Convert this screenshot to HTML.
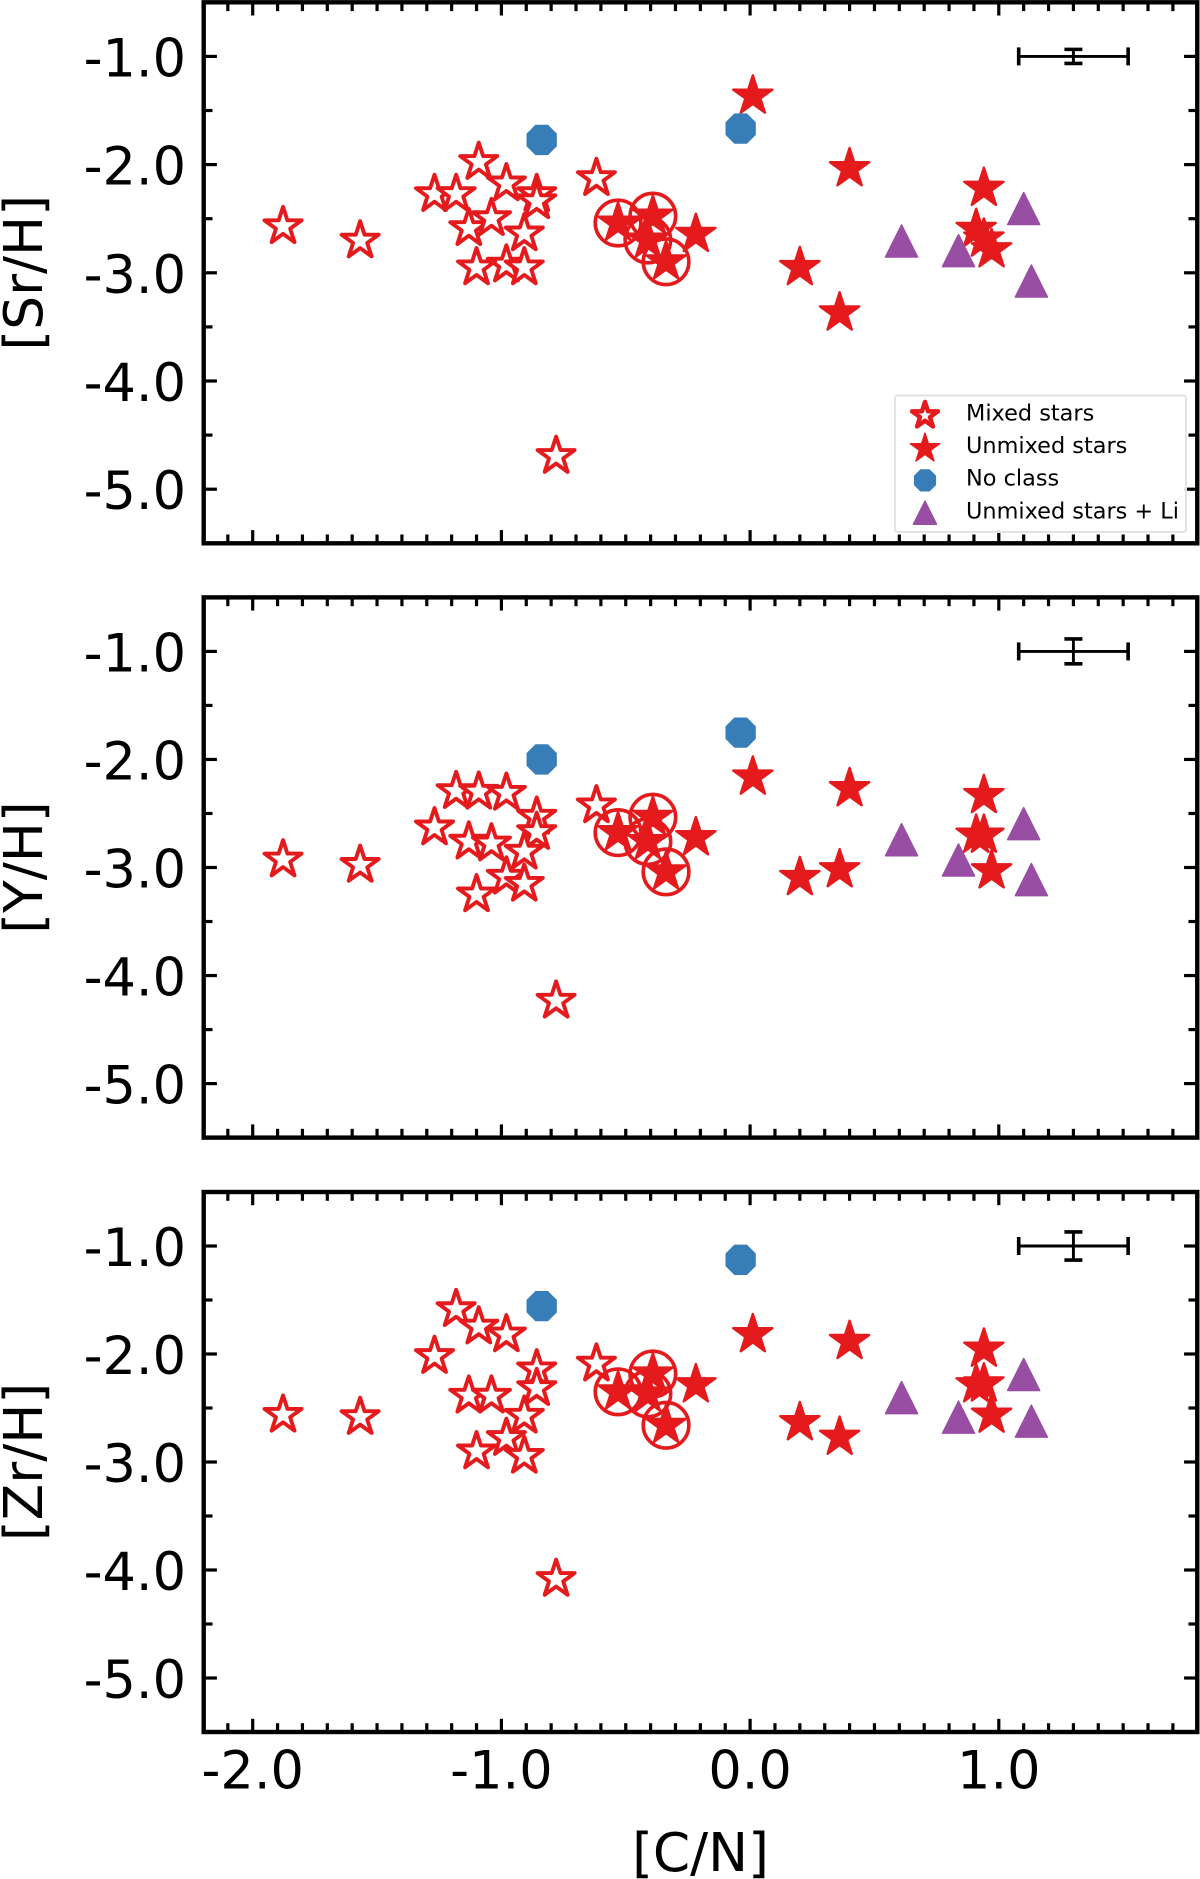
<!DOCTYPE html>
<html lang="en">
<head>
<meta charset="utf-8">
<title>Abundance vs [C/N]</title>
<style>
  html, body { margin: 0; padding: 0; background: #fff; }
  body { width: 1200px; height: 1879px; overflow: hidden; }
  svg { display: block; filter: blur(0.35px); }
  text { font-family: "DejaVu Sans", "Liberation Sans", sans-serif; fill: #000; }
</style>
</head>
<body>
<svg id="chart" xmlns="http://www.w3.org/2000/svg" width="1200" height="1879" viewBox="0 0 1200 1879"></svg>
<script>
// ---- data ----
const xTicks = [-2, -1, 0, 1];
const yTicks = [-1, -2, -3, -4, -5];
const xTickLabels = ['-2.0', '-1.0', '0.0', '1.0'];
const yTickLabels = ['-1.0', '-2.0', '-3.0', '-4.0', '-5.0'];
const legendLabels = ['Mixed stars', 'Unmixed stars', 'No class', 'Unmixed stars + Li'];
const panelTitles = ['[Sr/H]', '[Y/H]', '[Zr/H]'];

const mixedCN = [-1.878, -1.568, -1.269, -1.182, -1.091, -0.98, -0.858, -0.858, -1.131, -1.04, -0.908, -0.98, -1.10, -0.908, -0.78, -0.618];
const mixedSr = [-2.571, -2.703, -2.274, -2.274, -1.977, -2.175, -2.274, -2.34, -2.588, -2.496, -2.637, -2.925, -2.951, -2.951, -4.694, -2.126];
const mixedY  = [-2.927, -2.977, -2.63, -2.294, -2.30, -2.31, -2.531, -2.673, -2.762, -2.779, -2.855, -3.086, -3.25, -3.152, -4.234, -2.426];
const mixedZr = [-2.564, -2.585, -2.02, -1.586, -1.747, -1.82, -2.143, -2.317, -2.387, -2.387, -2.573, -2.779, -2.903, -2.944, -4.084, -2.09];

const circledCN = [-0.531, -0.391, -0.411, -0.338];
const circledSr = [-2.54, -2.476, -2.697, -2.898];
const circledY  = [-2.677, -2.535, -2.76, -3.04];
const circledZr = [-2.35, -2.185, -2.37, -2.66];

const unmixedCN = [-0.218, 0.011, 0.2, 0.36, 0.40, 0.909, 0.94, 0.94, 0.971];
const unmixedSr = [-2.644, -1.366, -2.951, -3.37, -2.037, -2.598, -2.218, -2.687, -2.786];
const unmixedY  = [-2.723, -2.162, -3.092, -3.02, -2.27, -2.70, -2.333, -2.70, -3.03];
const unmixedZr = [-2.284, -1.82, -2.635, -2.77, -1.883, -2.284, -1.954, -2.276, -2.565];

const noClassCN = [-0.838, -0.038];
const noClassSr = [-1.772, -1.667];
const noClassY  = [-2.0, -1.752];
const noClassZr = [-1.557, -1.128];

const liCN = [0.609, 0.838, 1.10, 1.131];
const liSr = [-2.706, -2.795, -2.406, -3.076];
const liY  = [-2.743, -2.93, -2.594, -3.112];
const liZr = [-2.404, -2.585, -2.19, -2.622];

const errCN = 1.30;
const errY = -1.0;
const errCNSize = 0.22;
const errSizes = [0.065, 0.115, 0.13];

// ---- geometry / style ----
const RED = '#e41a1c', BLUE = '#377eb8', PURPLE = '#984ea3';
const NS = 'http://www.w3.org/2000/svg';
const svg = document.getElementById('chart');
const X0 = 750.1, XU = 248.7;
const sx = v => X0 + XU * v;
const XMIN = -2.197, XMAX = 1.798;
const panels = [
  { y1: 56.4,  u: 108.2,  key: 'sr', mixed: mixedSr, circled: circledSr, unmixed: unmixedSr, noClass: noClassSr, li: liSr },
  { y1: 651.4, u: 108.05, key: 'y',  mixed: mixedY,  circled: circledY,  unmixed: unmixedY,  noClass: noClassY,  li: liY },
  { y1: 1246,  u: 108.0,  key: 'zr', mixed: mixedZr, circled: circledZr, unmixed: unmixedZr, noClass: noClassZr, li: liZr }
];

function mk(tag, attrs, parent) {
  const el = document.createElementNS(NS, tag);
  for (const k in attrs) el.setAttribute(k, attrs[k]);
  parent.appendChild(el);
  return el;
}
function starPts(cx, cy, r) {
  const pts = [];
  for (let i = 0; i < 10; i++) {
    const a = -Math.PI / 2 + i * Math.PI / 5;
    const rr = i % 2 ? r * 0.381966 : r;
    pts.push((cx + rr * Math.cos(a)).toFixed(2) + ',' + (cy + rr * Math.sin(a)).toFixed(2));
  }
  return pts.join(' ');
}
function octPts(cx, cy, r) {
  const pts = [];
  for (let i = 0; i < 8; i++) {
    const a = Math.PI / 8 + i * Math.PI / 4;
    pts.push((cx + r * Math.cos(a)).toFixed(2) + ',' + (cy + r * Math.sin(a)).toFixed(2));
  }
  return pts.join(' ');
}
function triPts(cx, cy, r) {
  return [[cx, cy - r], [cx + r, cy + r], [cx - r, cy + r]].map(p => p[0].toFixed(2) + ',' + p[1].toFixed(2)).join(' ');
}
function drawMixed(cx, cy, g, r, sw) {
  const el = mk('polygon', { points: starPts(cx, cy, r), fill: '#fff', stroke: RED, 'stroke-width': sw, 'stroke-linejoin': 'round' }, g);
  
  
}
function drawUnmixed(cx, cy, g, r, sw) {
  const el = mk('polygon', { points: starPts(cx, cy, r), fill: RED, stroke: RED, 'stroke-width': sw, 'stroke-linejoin': 'round' }, g);
  
  
}
function drawNoClass(cx, cy, g, r) {
  const el = mk('polygon', { points: octPts(cx, cy, r), fill: BLUE }, g);
  
  
}
function drawLi(cx, cy, g, r) {
  const el = mk('polygon', { points: triPts(cx, cy, r), fill: PURPLE, stroke: PURPLE, 'stroke-width': 1.5, 'stroke-linejoin': 'round' }, g);
  
  
}
function tickLine(g, x1, y1, x2, y2, name) {
  const el = mk('line', { x1: x1, y1: y1, x2: x2, y2: y2, stroke: '#000', 'stroke-width': 3.2 }, g);
  
  
}

panels.forEach((p, idx) => {
  const sy = v => p.y1 + (-1 - v) * p.u;
  const top = sy(-0.5), bot = sy(-5.5), left = sx(XMIN), right = sx(XMAX);

  const g = mk('g', {}, svg);
  
  

  // markers
  const mg = mk('g', {}, g);
  
  
  mixedCN.forEach((x, i) => drawMixed(sx(x), sy(p.mixed[i]), mg, 19.5, 3.9));
  circledCN.forEach((x, i) => {
    const c = mk('circle', { cx: sx(x), cy: sy(p.circled[i]), r: 22.8, fill: 'none', stroke: RED, 'stroke-width': 3.6 }, mg);
    
    
  });
  circledCN.forEach((x, i) => drawUnmixed(sx(x), sy(p.circled[i]), mg, 20.6, 2.4));
  unmixedCN.forEach((x, i) => drawUnmixed(sx(x), sy(p.unmixed[i]), mg, 20.6, 2.4));
  noClassCN.forEach((x, i) => drawNoClass(sx(x), sy(p.noClass[i]), mg, 16.4));
  liCN.forEach((x, i) => drawLi(sx(x), sy(p.li[i]), mg, 16));

  // error bar
  const eg = mk('g', { stroke: '#000', fill: 'none' }, g);
  
  
  const ex = sx(errCN), ey = sy(errY), ew = XU * errCNSize, eh = p.u * errSizes[idx];
  mk('line', { x1: ex - ew, y1: ey, x2: ex + ew, y2: ey, 'stroke-width': 2.9 }, eg);
  mk('line', { x1: ex, y1: ey - eh, x2: ex, y2: ey + eh, 'stroke-width': 2.9 }, eg);
  mk('line', { x1: ex - ew, y1: ey - 9, x2: ex - ew, y2: ey + 9, 'stroke-width': 3.6 }, eg);
  mk('line', { x1: ex + ew, y1: ey - 9, x2: ex + ew, y2: ey + 9, 'stroke-width': 3.6 }, eg);
  mk('line', { x1: ex - 9, y1: ey - eh, x2: ex + 9, y2: ey - eh, 'stroke-width': 3.6 }, eg);
  mk('line', { x1: ex - 9, y1: ey + eh, x2: ex + 9, y2: ey + eh, 'stroke-width': 3.6 }, eg);

  // ticks
  const tg = mk('g', {}, g);
  
  
  for (let n = -21; n <= 17; n++) {
    const v = n / 10, major = n % 10 === 0, len = major ? 13.2 : 8.8, x = sx(v);
    tickLine(tg, x, bot, x, bot - len, 'x-tick');
    tickLine(tg, x, top, x, top + len, 'x-tick-top');
  }
  for (let n = -10; n >= -50; n -= 5) {
    const v = n / 10, major = n % 10 === 0, len = major ? 13.2 : 8.8, y = sy(v);
    tickLine(tg, left, y, left + len, y, 'y-tick');
    tickLine(tg, right, y, right - len, y, 'y-tick-right');
  }

  // frame
  const f = mk('rect', { x: left, y: top, width: right - left, height: bot - top, fill: 'none', stroke: '#000', 'stroke-width': 4.4 }, g);
  
  

  // y tick labels
  yTicks.forEach((v, i) => {
    const t = mk('text', { x: 186, y: sy(v) + 20, 'text-anchor': 'end', 'font-size': 52.5 }, g);
    t.textContent = yTickLabels[i];
    
    
  });

  // y axis title
  const cy = (top + bot) / 2;
  const yt = mk('text', { x: 0, y: 0, 'text-anchor': 'middle', 'font-size': 53.4, transform: 'translate(42,' + cy + ') rotate(-90)' }, g);
  yt.textContent = panelTitles[idx];
  
  

  // x labels on the last panel
  if (idx === 2) {
    xTicks.forEach((v, i) => {
      const t = mk('text', { x: sx(v), y: 1788.5, 'text-anchor': 'middle', 'font-size': 52.5 }, g);
      t.textContent = xTickLabels[i];
      
      
    });
    const xt = mk('text', { x: 700.5, y: 1871, 'text-anchor': 'middle', 'font-size': 53.4 }, g);
    xt.textContent = '[C/N]';
    
    
  }
});

// legend
const lg = mk('g', {}, svg);


const lbox = mk('rect', { x: 895, y: 395.5, width: 291, height: 136.5, rx: 2.5, fill: '#fff', 'fill-opacity': 0.85, stroke: '#e3e3e3', 'stroke-width': 2 }, lg);


drawMixed(925, 415.5, lg, 13.6, 4.4);
drawUnmixed(925, 448.5, lg, 15.4, 1.4);
drawNoClass(925, 480.4, lg, 12);
drawLi(925, 512.7, lg, 11.5);
const lBase = [420.7, 453, 485.7, 518.6];
legendLabels.forEach((s, i) => {
  const t = mk('text', { x: 966, y: lBase[i], 'font-size': 22.4 }, lg);
  t.textContent = s;
  
  
});
</script>
</body>
</html>
